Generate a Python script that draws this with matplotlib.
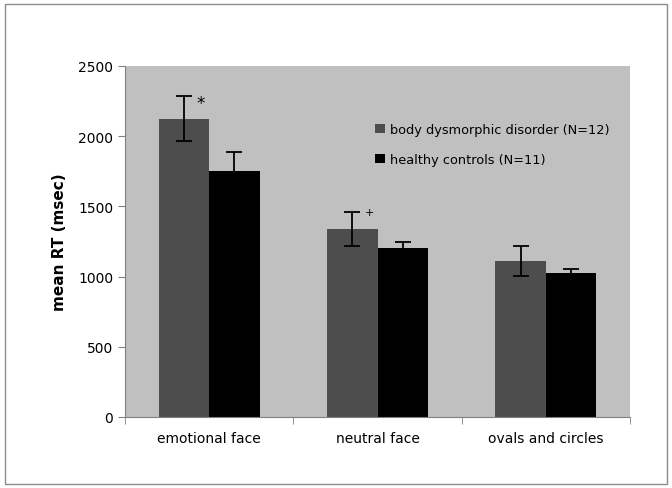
import matplotlib.pyplot as plt
from matplotlib.patches import Rectangle
import numpy as np

categories = ['emotional face', 'neutral face', 'ovals and circles']
bdd_mean = [2125, 1340, 1110]
bdd_err = [160, 120, 105]
hc_mean = [1750, 1205, 1025]
hc_err = [135, 45, 30]
marks = ['*', '+', '']

fig = plt.figure(figsize=(6.72, 4.89), dpi=100)
fig.patches.append(Rectangle((5 / 672, 4 / 489), 662 / 672, 480 / 489, transform=fig.transFigure,
                             fill=False, edgecolor='#8c8c8c', linewidth=1))
ax = fig.add_axes([125 / 672, 71 / 489, 505 / 672, 351 / 489])
ax.set_facecolor('#c0c0c0')

x = np.arange(len(categories))
w = 0.3
ax.bar(x - w / 2, bdd_mean, w, color='#4d4d4d', label='body dysmorphic disorder (N=12)', zorder=2)
ax.bar(x + w / 2, hc_mean, w, color='black', label='healthy controls (N=11)', zorder=2)
ax.errorbar(x - w / 2, bdd_mean, yerr=bdd_err, fmt='none', ecolor='black', elinewidth=1.3,
            capsize=6, capthick=1.3, zorder=3)
ax.errorbar(x + w / 2, hc_mean, yerr=hc_err, fmt='none', ecolor='black', elinewidth=1.3,
            capsize=6, capthick=1.3, zorder=3)

# significance marks next to the BDD error bars
for i, m in enumerate(marks):
    if m == '*':
        ax.text(x[i] - w / 2 + 0.1, bdd_mean[i] + bdd_err[i] - 50, m, ha='center', va='center', fontsize=12)
    elif m == '+':
        ax.text(x[i] - w / 2 + 0.1, bdd_mean[i] + bdd_err[i], m, ha='center', va='center', fontsize=8)

ax.set_xlim(-0.5, 2.5)
ax.set_ylim(0, 2500)
ax.set_yticks(range(0, 2501, 500))
ax.set_xticks(x)
ax.set_xticklabels(categories, fontsize=10)
ax.set_xticks([-0.5, 0.5, 1.5, 2.5], minor=True)
ax.tick_params(axis='x', which='major', length=0, pad=10)
ax.tick_params(axis='x', which='minor', length=5, color='#808080')
ax.tick_params(axis='y', labelsize=10, length=5, color='#808080')
ax.set_ylabel('mean RT (msec)', fontsize=11, fontweight='bold', labelpad=8)
for s in ['top', 'right']:
    ax.spines[s].set_visible(False)
ax.spines['left'].set_color('#808080')
ax.spines['bottom'].set_color('#808080')

ax.legend(loc='upper left', bbox_to_anchor=(0.473, 0.87), frameon=False, fontsize=9.3,
          handlelength=0.75, handleheight=0.75, handletextpad=0.35, labelspacing=1.3)

plt.savefig('out.png', dpi=100)
